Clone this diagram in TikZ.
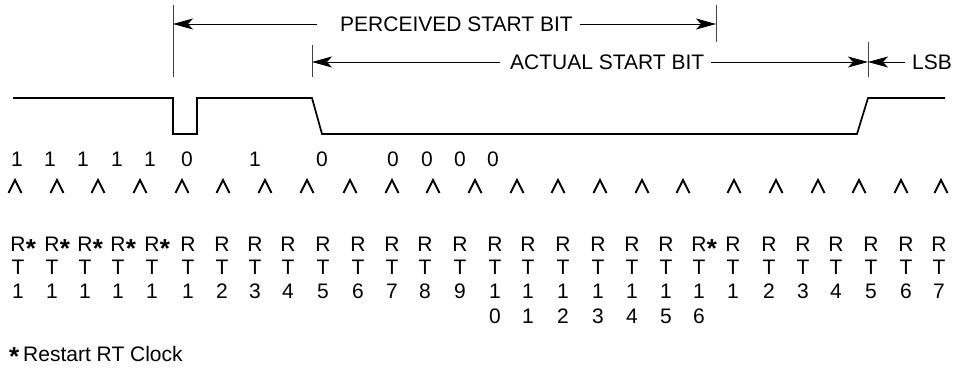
\documentclass[tikz,border=0pt]{standalone}
\usepackage{fontspec}
\setmainfont{Liberation Sans}
\usetikzlibrary{arrows.meta}
\begin{document}
\begin{tikzpicture}[x=1pt,y=-1pt,
  txt/.style={inner sep=0pt, font=\fontsize{21}{25}\selectfont},
  starsym/.style={inner sep=0pt, font=\fontsize{26}{30}\selectfont\bfseries},
  sig/.style={line width=1.7pt, line join=miter},
  tickline/.style={line width=0.8pt, draw=black!75},
  dimarrow/.style={line width=0.8pt, -{Stealth[length=20pt,width=11pt,inset=5pt]}},
  caret/.style={line width=1.9pt, line cap=butt, line join=miter}]
\useasboundingbox (0,0) rectangle (956,371);

% vertical marker lines
\draw[tickline] (173,5) -- (173,77);
\draw[tickline] (716,5) -- (716,42);
\draw[tickline] (312,45) -- (312,77);
\draw[tickline] (868,42) -- (868,77);

\coordinate (pL) at (173,24);
\coordinate (pR) at (716,24);
\coordinate (aL) at (312,62);
\coordinate (aR) at (868,62);

% labels
\node[txt, anchor=west] (ptext) at (340,24) {PERCEIVED START BIT};
\node[txt, anchor=west] (atext) at (510,62) {ACTUAL START BIT};
\node[txt, anchor=west] (lsb) at (912,62) {LSB};

\draw[dimarrow] ([xshift=-23pt]ptext.west) -- (pL);
\draw[dimarrow] ([xshift=7pt]ptext.east) -- (pR);
\draw[dimarrow] ([xshift=-10pt]atext.west) -- (aL);
\draw[dimarrow] ([xshift=7pt]atext.east) -- (aR);
\draw[dimarrow] ([xshift=-7pt]lsb.west) -- (aR);

% waveform
\draw[sig] (13,98) -- (173,98) -- (173,134) -- (197,134) -- (197,98) -- (312,98)
  -- (322,134) -- (857,134) -- (868,98) -- (945,98);

% sampled bits
\foreach \x/\b [count=\i] in {17/1,50/1,83/1,117/1,150/1,187/0,255/1,322/0,393/0,427/0,460/0,493/0}
  \node[txt, anchor=base] (bit\i) at (\x,167) {\b};

% carets
\foreach \x in {15,57,98,140,182,223,265,307,350,392,433,475,517,558,600,642,683,734,776,818,859,901,941}
  \draw[caret] ({\x-6.5},193) -- (\x,180) -- ({\x+6.5},193);

% RT columns
\foreach \x/\a [count=\i] in {18/1,52/1,85/1,118/1,152/1,188/1,222/2,255/3,288/4,323/5,358/6,392/7,425/8,460/9,495/1,528/1,563/1,598/1,632/1,666/1,699/1,733/1,769/2,803/3,836/4,871/5,906/6,939/7}{
  \node[txt, anchor=base] (r\i) at (\x,252) {R};
  \node[txt, anchor=base] (t\i) at (\x,275) {T};
  \node[txt, anchor=base] (n\i) at (\x,299) {\a};
}
\foreach \x/\d [count=\i] in {495/0,528/1,563/2,598/3,632/4,666/5,699/6}
  \node[txt, anchor=base] (m\i) at (\x,324) {\d};

\foreach \i in {1,2,3,4,5,21}
  \node[starsym, anchor=base west, yshift=-6pt] (s\i) at (r\i.base east) {*};

% footnote
\node[starsym, anchor=base west, yshift=-5pt] (fstar) at (9,361) {*};
\node[txt, anchor=base west] (fnote) at (23,361) {Restart RT Clock};
\end{tikzpicture}
\end{document}
